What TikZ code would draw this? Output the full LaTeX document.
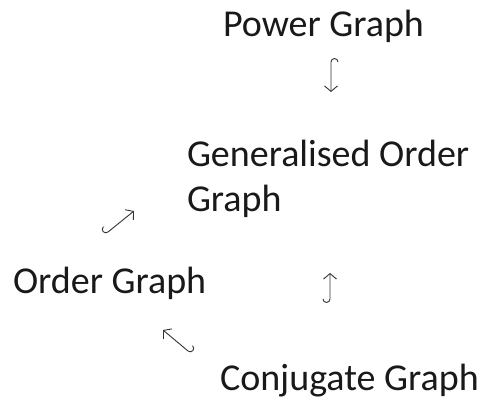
\documentclass[tikz,border=0pt]{standalone}
\usepackage{fontspec}
\setmainfont{Carlito}
\usetikzlibrary{arrows.meta}
\tikzset{
  x=1pt, y=1pt,
  label/.style={inner sep=0pt, outer sep=0pt, anchor=base west, text=black!90,
    font=\fontsize{38}{45}\selectfont},
  hookarrow/.style={draw=black!80, line width=0.9pt,
    -{Straight Barb[length=5.5pt,width=13pt,line width=0.9pt]}},
}
\begin{document}
\begin{tikzpicture}
\useasboundingbox (0,0) rectangle (479,402);

% graph names
\node[label] (power) at (223,365) {Power Graph};
\node[label, align=left] (gen) at (187,190) {Generalised Order\\Graph};
\node[label] (order) at (13,109) {Order Graph};
\node[label] (conj) at (220,12) {Conjugate Graph};

% tail and tip points of the hooked inclusion arrows
\coordinate (t1) at (331,340); \coordinate (h1) at (331,310);
\coordinate (t2) at (108,170); \coordinate (h2) at (134,191);
\coordinate (t3) at (330,103); \coordinate (h3) at (330,129);
\coordinate (t4) at (188,51);  \coordinate (h4) at (163,72);

% Power Graph -> Generalised Order Graph
\draw[hookarrow] ([shift={(7,0)}]t1) arc[start angle=0, end angle=180, radius=3.5] -- (h1);
% Order Graph -> Generalised Order Graph
\draw[hookarrow] ([shift={(130:7)}]t2) arc[start angle=130, end angle=310, radius=3.5] -- (h2);
% Conjugate Graph -> Generalised Order Graph
\draw[hookarrow] ([shift={(-7,0)}]t3) arc[start angle=180, end angle=360, radius=3.5] -- (h3);
% Conjugate Graph -> Order Graph
\draw[hookarrow] ([shift={(50:7)}]t4) arc[start angle=50, end angle=-130, radius=3.5] -- (h4);
\end{tikzpicture}
\end{document}
